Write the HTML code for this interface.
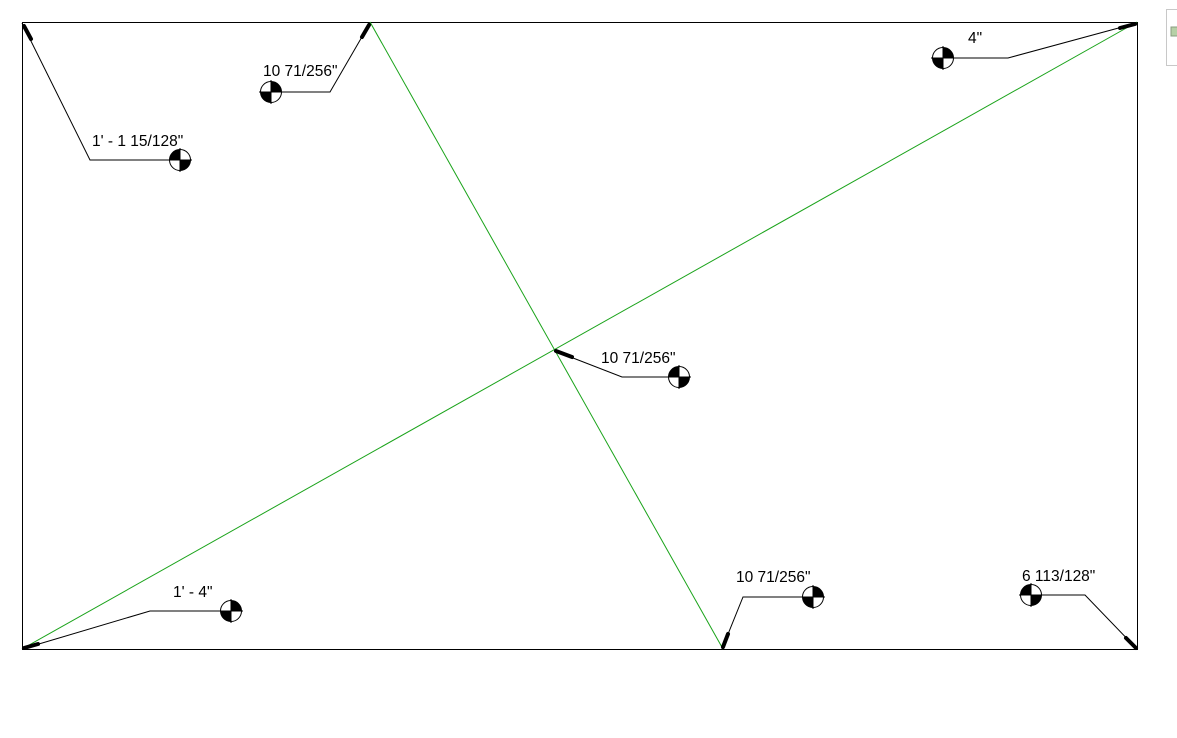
<!DOCTYPE html>
<html><head><meta charset="utf-8"><style>
html,body{margin:0;padding:0;background:#fff;}
svg{display:block;}
text{font-family:"Liberation Sans",sans-serif;font-size:15.5px;fill:#000;}
</style></head><body>
<svg width="1177" height="738" viewBox="0 0 1177 738" xmlns="http://www.w3.org/2000/svg">
<defs>
<g id="mk">
<circle cx="0" cy="0" r="10.5" fill="#fff" stroke="#000" stroke-width="1"/>
<path d="M0 0 L-10.5 0 A10.5 10.5 0 0 1 0 -10.5 Z" fill="#000"/>
<path d="M0 0 L10.5 0 A10.5 10.5 0 0 1 0 10.5 Z" fill="#000"/>
<line x1="0" y1="-12" x2="0" y2="12" stroke="#000"/>
<line x1="-12" y1="0" x2="12" y2="0" stroke="#000"/>
</g>
<g id="mk2">
<circle cx="0" cy="0" r="10.5" fill="#fff" stroke="#000" stroke-width="1"/>
<path d="M0 0 L0 -10.5 A10.5 10.5 0 0 1 10.5 0 Z" fill="#000"/>
<path d="M0 0 L0 10.5 A10.5 10.5 0 0 1 -10.5 0 Z" fill="#000"/>
<line x1="0" y1="-12" x2="0" y2="12" stroke="#000"/>
<line x1="-12" y1="0" x2="12" y2="0" stroke="#000"/>
</g>
</defs>
<rect x="22.5" y="22.5" width="1115" height="627" fill="none" stroke="#000" stroke-width="1"/>
<line x1="370" y1="22" x2="723" y2="649" stroke="#1aa31a" stroke-width="1"/>
<line x1="22" y1="649" x2="1137" y2="22" stroke="#1aa31a" stroke-width="1"/>
<rect x="1166.5" y="9.5" width="14" height="56" fill="#fff" stroke="#c8c8c8"/>
<rect x="1171" y="27" width="8" height="9" fill="#b6d0a6" stroke="#8a9c80"/>
<g stroke="#000" fill="none" stroke-width="1">
<polyline points="22,23 90,160 170,160"/>
<polyline points="370,23 330,92 282,92"/>
<polyline points="1137,23 1008,58 955,58"/>
<polyline points="555,351 622,377 668,377"/>
<polyline points="22,649 150,611 220,611"/>
<polyline points="722,649 743,597 802,597"/>
<polyline points="1137,649 1085,595 1043,595"/>
</g>
<g stroke="#000" stroke-width="4" stroke-linecap="round">
<line x1="24" y1="26" x2="31" y2="39"/>
<line x1="369" y1="25" x2="362" y2="37"/>
<line x1="1135" y1="24" x2="1120" y2="28"/>
<line x1="556" y1="351" x2="572" y2="357"/>
<line x1="24" y1="648" x2="38" y2="644"/>
<line x1="723" y1="647" x2="728" y2="634"/>
<line x1="1136" y1="648" x2="1126" y2="638"/>
</g>
<use href="#mk" x="180" y="160"/>
<use href="#mk2" x="271" y="92"/>
<use href="#mk2" x="943" y="58"/>
<use href="#mk" x="679" y="377"/>
<use href="#mk2" x="231" y="611"/>
<use href="#mk2" x="813" y="597"/>
<use href="#mk" x="1031" y="595"/>
<text x="92" y="146">1' - 1 15/128"</text>
<text x="263" y="76">10 71/256"</text>
<text x="968" y="43">4"</text>
<text x="601" y="363">10 71/256"</text>
<text x="173" y="597">1' - 4"</text>
<text x="736" y="582">10 71/256"</text>
<text x="1022" y="581">6 113/128"</text>
</svg>
</body></html>
